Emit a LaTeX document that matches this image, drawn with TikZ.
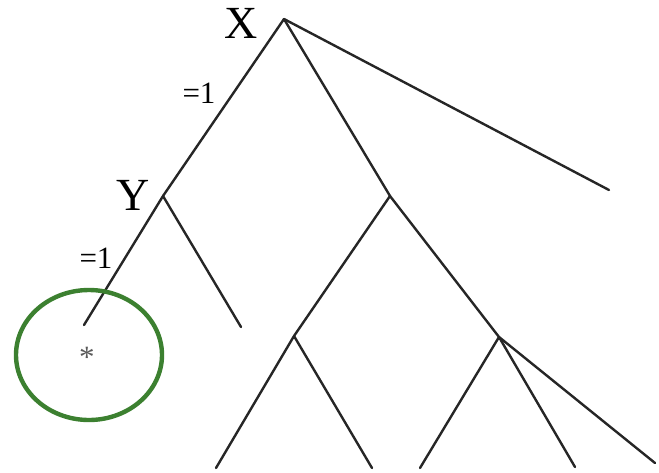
\documentclass[tikz,border=0pt]{standalone}
\usepackage{fontspec}
\setmainfont{Liberation Serif}
\definecolor{RingGreen}{RGB}{60,128,48}
\definecolor{StarGray}{RGB}{90,90,90}
\usetikzlibrary{positioning}

\begin{document}
\begin{tikzpicture}[x=0.5pt, y=-0.5pt,
    branch/.style={line width=1.2pt, black!85, line cap=round},
    varlabel/.style={inner sep=0pt, font=\fontsize{23}{25}\selectfont},
    edgelabel/.style={inner sep=0pt, font=\fontsize{15.5}{17}\selectfont}]
  \useasboundingbox (0,0) rectangle (659,472);
  % tree nodes
  \coordinate (root) at (284,19);
  \coordinate (y) at (163,196);
  \coordinate (m) at (390,196);
  \coordinate (far) at (609,190);
  \coordinate (leafa) at (84,325);
  \coordinate (leafb) at (241,327);
  \coordinate (ml) at (294,336);
  \coordinate (mr) at (499,337);
  \coordinate (leafc) at (216,468);
  \coordinate (leafd) at (372,468);
  \coordinate (leafe) at (420,468);
  \coordinate (leaff) at (575,467);
  \coordinate (leafg) at (655,463);
  % branches
  \draw[branch] (root) -- (y);
  \draw[branch] (root) -- (m);
  \draw[branch] (root) -- (far);
  \draw[branch] (y) -- (leafa);
  \draw[branch] (y) -- (leafb);
  \draw[branch] (m) -- (ml);
  \draw[branch] (m) -- (mr);
  \draw[branch] (ml) -- (leafc);
  \draw[branch] (ml) -- (leafd);
  \draw[branch] (mr) -- (leafe);
  \draw[branch] (mr) -- (leaff);
  \draw[branch] (mr) -- (leafg);
  % labels
  \node[varlabel] (xlab) at (241,23) {X};
  \node[varlabel] (ylab) at (133,195) {Y};
  \node[edgelabel] (eqa) at (199,93) {=1};
  \node[edgelabel] (eqb) at (96,258) {=1};
  \node[edgelabel, StarGray] (star) at (87,357) {*};
  \draw[RingGreen, line width=2.2pt] (89,355) ellipse (73 and 65);
\end{tikzpicture}
\end{document}
